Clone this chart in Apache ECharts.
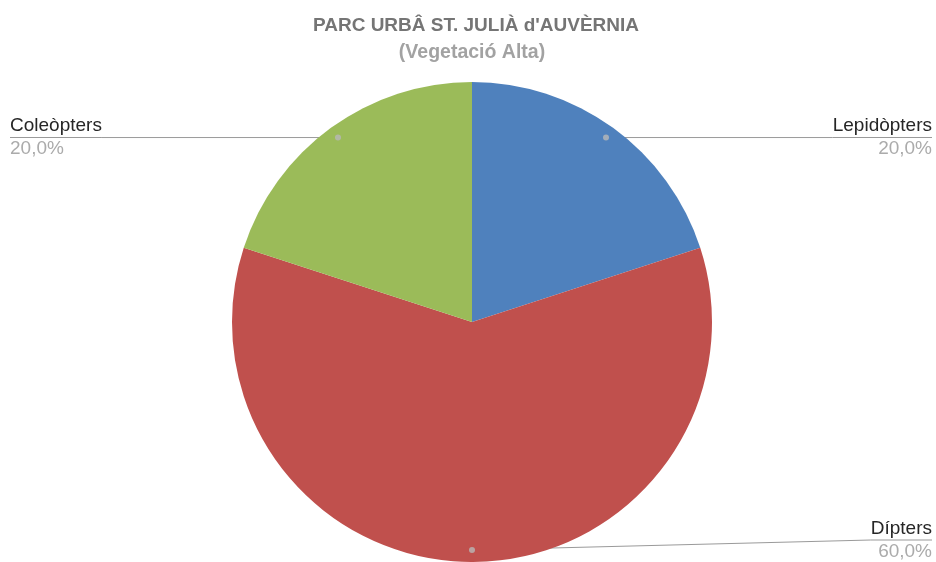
<!DOCTYPE html>
<html>
<head>
<meta charset="utf-8">
<script src="https://cdn.jsdelivr.net/npm/echarts@6/dist/echarts.min.js"></script>
<style>
  html, body { margin: 0; padding: 0; background: #fff; }
  #chart { width: 936px; height: 562px; }
</style>
</head>
<body>
<div id="chart"></div>
<script>
// Insect orders counted in the tall-vegetation sample
const categories = ['Lepidòpters', 'Dípters', 'Coleòpters'];
const counts = [1, 3, 1];
const sliceColors = ['#4F81BD', '#C0504D', '#9BBB59'];
const titleText = "PARC URBÂ ST. JULIÀ d'AUVÈRNIA";
const subtitleText = '(Vegetació Alta)';

const FONT = '"Liberation Sans", Arial, sans-serif';
const total = counts.reduce((a, b) => a + b, 0);
const pctText = v => (v / total * 100).toFixed(1).replace('.', ',') + '%';

// middle of each slice in value units, for the small marker dots
let running = 0;
const sliceMids = counts.map(v => { const m = running + v / 2; running += v; return m; });

const pieData = categories.map((name, i) => ({
  name, value: counts[i], itemStyle: { color: sliceColors[i] }
}));

const chart = echarts.init(document.getElementById('chart'));
chart.setOption({
  animation: false,
  backgroundColor: '#ffffff',
  title: [
    {
      text: titleText,
      left: 471,
      top: 11,
      textAlign: 'center',
      textStyle: { fontFamily: FONT, fontSize: 19, fontWeight: 'bold', color: '#757575' }
    },
    {
      text: subtitleText,
      left: 467,
      top: 38,
      textAlign: 'center',
      textStyle: { fontFamily: FONT, fontSize: 19.5, fontWeight: 'bold', color: '#a2a2a2' }
    }
  ],
  polar: { center: [472, 322], radius: 240 },
  angleAxis: { type: 'value', min: 0, max: total, startAngle: 90, clockwise: true, show: false },
  radiusAxis: { type: 'value', min: 0, max: 1, show: false },
  series: [
    {
      type: 'pie',
      center: [466, 322],
      left: 6,
      radius: 240,
      startAngle: 90,
      clockwise: true,
      silent: true,
      label: { show: false },
      labelLine: { show: false },
      data: pieData
    },
    {
      type: 'pie',
      center: [466, 322],
      left: 6,
      radius: 228,
      startAngle: 90,
      clockwise: true,
      silent: true,
      itemStyle: { color: 'rgba(0,0,0,0)' },
      label: {
        show: true,
        position: 'outside',
        alignTo: 'edge',
        edgeDistance: 4,
        distanceToLabelLine: 0,
        fontFamily: FONT,
        formatter: p => `{n|${p.name}}\n{hr|}\n{p|${pctText(p.value)}}`,
        rich: {
          n: { fontFamily: FONT, fontSize: 19, color: '#262626', lineHeight: 22 },
          hr: { width: '100%', height: 1, backgroundColor: '#9a9a9a' },
          p: { fontFamily: FONT, fontSize: 19, color: '#ababab', lineHeight: 22 }
        }
      },
      labelLine: {
        show: true,
        length: 0,
        length2: 20,
        lineStyle: { color: '#9a9a9a', width: 1 }
      },
      data: categories.map((name, i) => ({ name, value: counts[i], itemStyle: { color: 'rgba(0,0,0,0)' } }))
    },
    {
      type: 'scatter',
      coordinateSystem: 'polar',
      silent: true,
      symbolSize: 6,
      itemStyle: { color: '#b8b8b8' },
      data: sliceMids.map(m => [0.95, m]),
      z: 5
    }
  ]
});
</script>
</body>
</html>
